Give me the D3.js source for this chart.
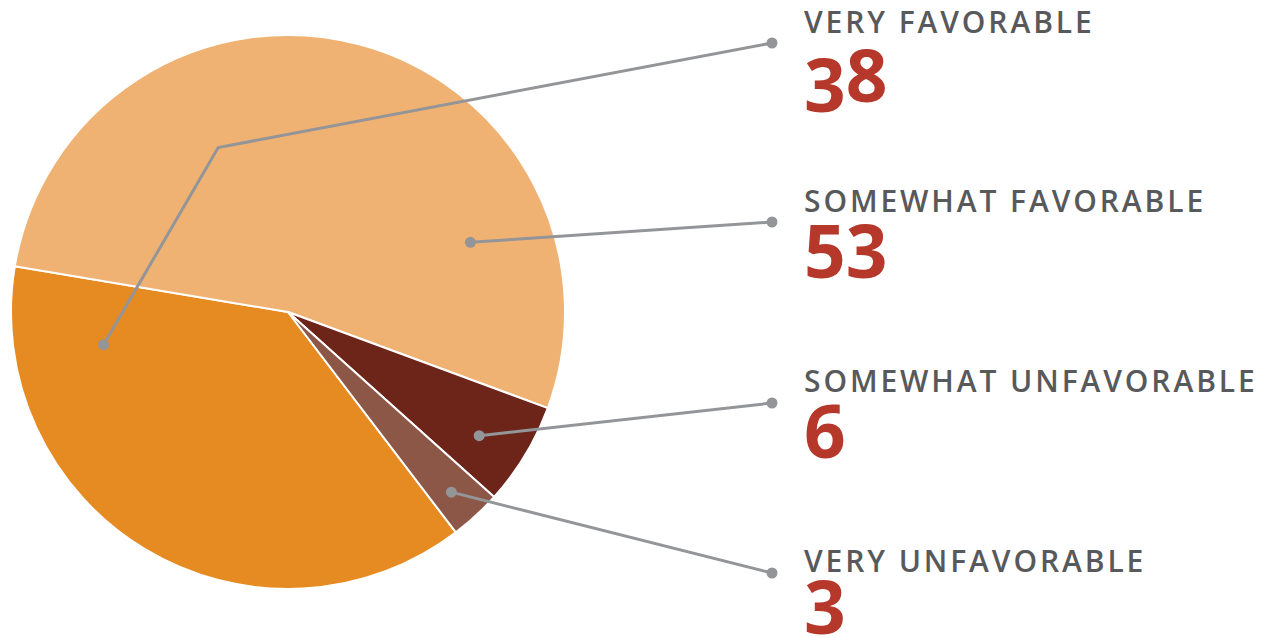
<!DOCTYPE html>
<html>
<head>
<meta charset="utf-8">
<script src="https://cdn.jsdelivr.net/npm/d3@7/dist/d3.min.js"></script>
<style>
  html, body { margin: 0; padding: 0; background: #fff; }
  svg { display: block; }
</style>
</head>
<body>
<svg id="chart" width="1268" height="637"></svg>
<script>
// ---- data ----
const categories = ["VERY FAVORABLE", "SOMEWHAT FAVORABLE", "SOMEWHAT UNFAVORABLE", "VERY UNFAVORABLE"];
const values = [38, 53, 6, 3];
const colors = ["#E68A22", "#F0B273", "#6D251A", "#8D5748"];

// ---- layout (not data) ----
const W = 1268, H = 637;
const cx = 288, cy = 312, R = 277;
const deg = Math.PI / 180;
const startAngle = 142.7 * deg;
const labelX = 804;
const labelBaselines = [33, 212, 392, 572];
const numberBaselines = [102, 278, 458, 634];
const outerDotX = 772;
const outerDotY = [43, 222, 403, 573];
// anchor inside slice: fraction t along slice angle, fraction k of radius
const anchors = [{t: 0.857, k: 0.676}, {t: 0.784, k: 0.705}, {t: 0.583, k: 0.822}, {t: 0.546, k: 0.878}];
// extra elbow for first leader (polar: angle deg, radius fraction)
const elbow = [{a: -23, k: 0.645}, null, null, null];

const svg = d3.select("#chart");
const g = svg.append("g").attr("transform", `translate(${cx},${cy})`);

const pie = d3.pie().sort(null).value(d => d)
  .startAngle(startAngle).endAngle(startAngle + 2 * Math.PI);
const arcs = pie(values);
const arc = d3.arc().innerRadius(0).outerRadius(R);

g.selectAll("path.slice").data(arcs).join("path")
  .attr("class", "slice")
  .attr("d", arc)
  .attr("fill", (d, i) => colors[i])
  .attr("stroke", "#fff")
  .attr("stroke-width", 2)
  .attr("stroke-linejoin", "round");

function polar(a, r) { return [cx + r * Math.sin(a), cy - r * Math.cos(a)]; }

const lineColor = "#939598";
const lg = svg.append("g");
arcs.forEach((d, i) => {
  const a = d.startAngle + anchors[i].t * (d.endAngle - d.startAngle);
  const inner = polar(a, anchors[i].k * R);
  const pts = [[outerDotX, outerDotY[i]]];
  if (elbow[i]) pts.push(polar(elbow[i].a * deg, elbow[i].k * R));
  pts.push(inner);
  lg.append("path")
    .attr("d", d3.line()(pts))
    .attr("fill", "none")
    .attr("stroke", lineColor)
    .attr("stroke-width", 3)
    .attr("stroke-linejoin", "miter");
  lg.append("circle").attr("cx", pts[0][0]).attr("cy", pts[0][1]).attr("r", 5.5).attr("fill", lineColor);
  lg.append("circle").attr("cx", inner[0]).attr("cy", inner[1]).attr("r", 5.5).attr("fill", lineColor);
});

// labels
const tg = svg.append("g");
categories.forEach((c, i) => {
  tg.append("text")
    .attr("x", labelX).attr("y", labelBaselines[i])
    .attr("font-family", "'Open Sans', sans-serif")
    .attr("font-weight", 600)
    .attr("font-size", 30)
    .attr("letter-spacing", 2.9)
    .attr("fill", "#58595B")
    .text(c);
  // number with old-style-like digit offsets
  const t = tg.append("text")
    .attr("x", labelX).attr("y", numberBaselines[i])
    .attr("font-family", "'Open Sans', sans-serif")
    .attr("font-weight", 700)
    .attr("font-size", 73)
    .attr("fill", "#B5382A");
  const s = String(values[i]);
  const desc = "34579";
  const asc = "68";
  const mixed = [...s].some(ch => asc.includes(ch)) && [...s].some(ch => desc.includes(ch));
  let prev = 0;
  [...s].forEach(ch => {
    const off = (mixed && desc.includes(ch)) ? 10 : 0;
    t.append("tspan").attr("dy", off - prev).text(ch);
    prev = off;
  });
});
</script>
</body>
</html>
